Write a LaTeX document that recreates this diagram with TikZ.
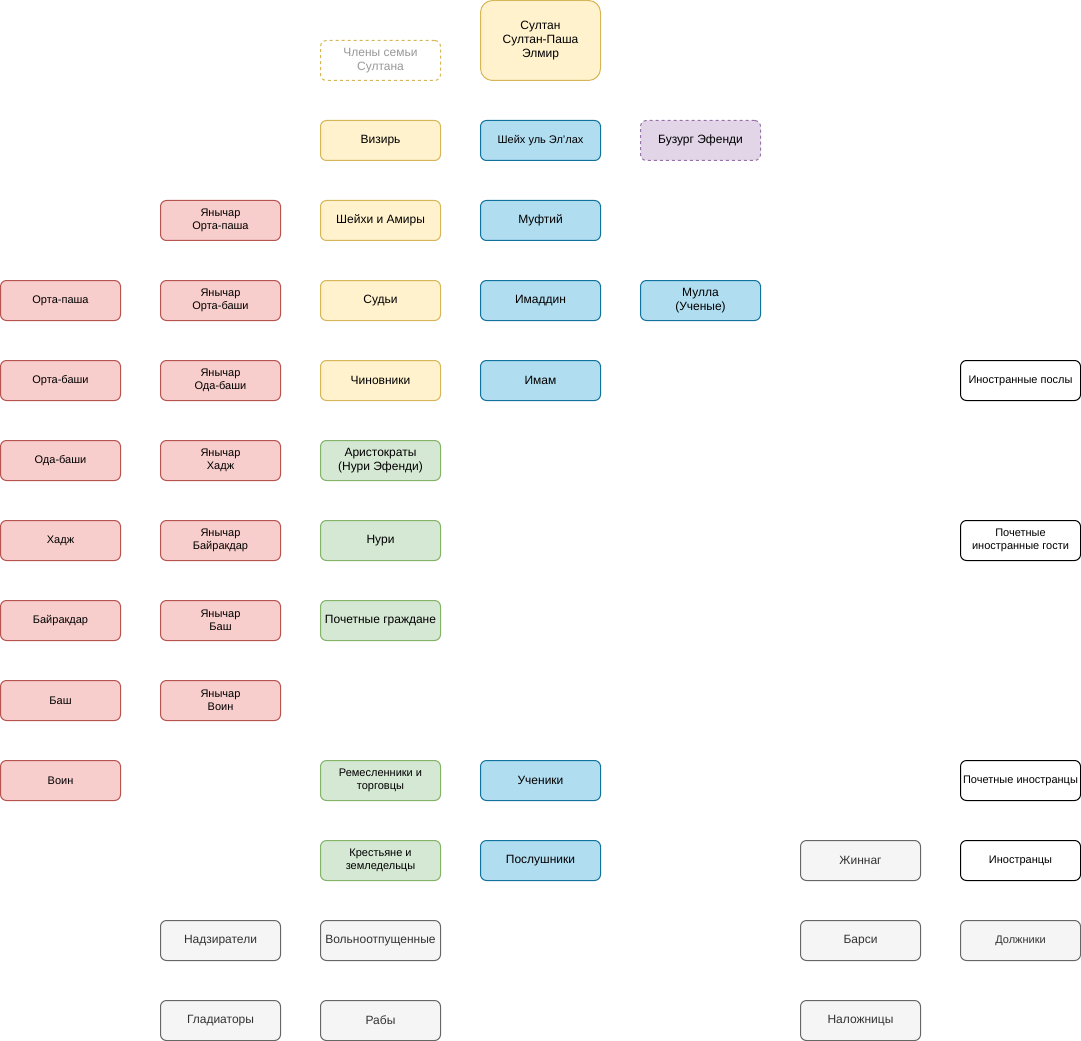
\documentclass[tikz,border=0pt]{standalone}
\usepackage{fontspec}
\setmainfont{Liberation Sans}
\definecolor{yf}{HTML}{FFF2CC}\definecolor{ys}{HTML}{D6B656}
\definecolor{bf}{HTML}{B1DDF0}\definecolor{bs}{HTML}{10739E}
\definecolor{pf}{HTML}{E1D5E7}\definecolor{ps}{HTML}{9673A6}
\definecolor{rf}{HTML}{F8CECC}\definecolor{rs}{HTML}{B85450}
\definecolor{gf}{HTML}{D5E8D4}\definecolor{gs}{HTML}{82B366}
\definecolor{hf}{HTML}{F5F5F5}\definecolor{hs}{HTML}{666666}\definecolor{ht}{HTML}{333333}
\definecolor{lt}{HTML}{999999}
\begin{document}
\begin{tikzpicture}[x=0.75pt,y=-0.75pt,
  box/.style={rectangle,rounded corners=4.5pt,minimum width=90pt,minimum height=30pt,
    inner sep=0pt,line width=0.75pt,align=center,text=black,
    font=\fontsize{9}{10.8}\selectfont},
  small/.style={font=\fontsize{8.25}{9.9}\selectfont},
  yel/.style={box,fill=yf,draw=ys},
  blu/.style={box,fill=bf,draw=bs},
  pur/.style={box,fill=pf,draw=ps,dash pattern=on 2.25pt off 2.25pt},
  red/.style={box,fill=rf,draw=rs,small},
  grn/.style={box,fill=gf,draw=gs},
  gry/.style={box,fill=hf,draw=hs,text=ht},
  wht/.style={box,fill=white,draw=black,small}]
\useasboundingbox (-0.5,-0.5) rectangle (1080.5,1040.5);
% column A
\node[red] (a1) at (60,300) {Орта-паша};
\node[red] (a2) at (60,380) {Орта-баши};
\node[red] (a3) at (60,460) {Ода-баши};
\node[red] (a4) at (60,540) {Хадж};
\node[red] (a5) at (60,620) {Байракдар};
\node[red] (a6) at (60,700) {Баш};
\node[red] (a7) at (60,780) {Воин};
% column B
\node[red] (b1) at (220,220) {Янычар\\Орта-паша};
\node[red] (b2) at (220,300) {Янычар\\Орта-баши};
\node[red] (b3) at (220,380) {Янычар\\Ода-баши};
\node[red] (b4) at (220,460) {Янычар\\Хадж};
\node[red] (b5) at (220,540) {Янычар\\Байракдар};
\node[red] (b6) at (220,620) {Янычар\\Баш};
\node[red] (b7) at (220,700) {Янычар\\Воин};
\node[gry] (b8) at (220,940) {Надзиратели};
\node[gry] (b9) at (220,1020) {Гладиаторы};
% column C
\node[box,fill=white,draw=ys,text=lt,dash pattern=on 2.25pt off 2.25pt] (c0) at (380,60) {Члены семьи\\Султана};
\node[yel] (c1) at (380,140) {Визирь};
\node[yel] (c2) at (380,220) {Шейхи и Амиры};
\node[yel] (c3) at (380,300) {Судьи};
\node[yel] (c4) at (380,380) {Чиновники};
\node[grn] (c5) at (380,460) {Аристократы\\(Нури Эфенди)};
\node[grn] (c6) at (380,540) {Нури};
\node[grn] (c7) at (380,620) {Почетные граждане};
\node[grn,small] (c8) at (380,780) {Ремесленники и\\торговцы};
\node[grn,small] (c9) at (380,860) {Крестьяне и\\земледельцы};
\node[gry] (c10) at (380,940) {Вольноотпущенные};
\node[gry] (c11) at (380,1020) {Рабы};
% column D
\node[yel,minimum height=60pt,rounded corners=9pt] (d0) at (540,40) {Султан\\Султан-Паша\\Элмир};
\node[blu,small] (d1) at (540,140) {Шейх уль Эл'лах};
\node[blu] (d2) at (540,220) {Муфтий};
\node[blu] (d3) at (540,300) {Имаддин};
\node[blu] (d4) at (540,380) {Имам};
\node[blu] (d5) at (540,780) {Ученики};
\node[blu] (d6) at (540,860) {Послушники};
% column E
\node[pur] (e1) at (700,140) {Бузург Эфенди};
\node[blu] (e2) at (700,300) {Мулла\\(Ученые)};
% column F
\node[gry] (f1) at (860,860) {Жиннаг};
\node[gry] (f2) at (860,940) {Барси};
\node[gry] (f3) at (860,1020) {Наложницы};
% column G
\node[wht] (g1) at (1020,380) {Иностранные послы};
\node[wht] (g2) at (1020,540) {Почетные\\иностранные гости};
\node[wht] (g3) at (1020,780) {Почетные иностранцы};
\node[wht] (g4) at (1020,860) {Иностранцы};
\node[gry,small] (g5) at (1020,940) {Должники};
\end{tikzpicture}
\end{document}
